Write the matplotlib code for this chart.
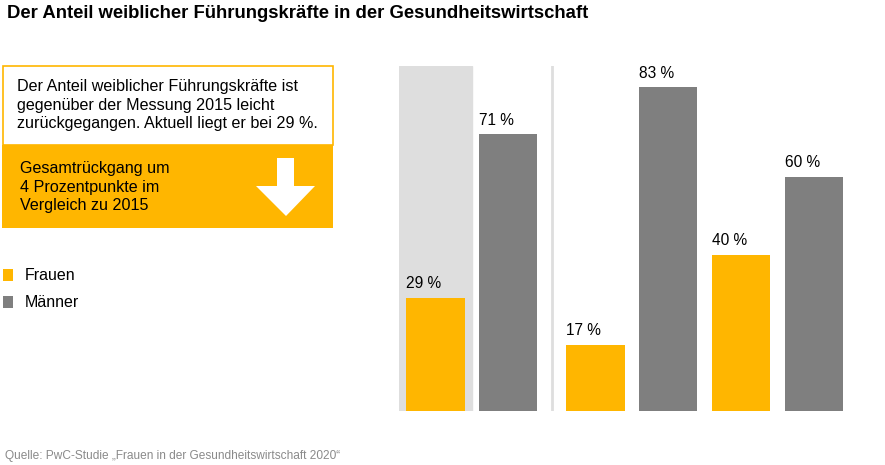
import matplotlib
matplotlib.use("Agg")
import matplotlib.pyplot as plt
from matplotlib.patches import Rectangle, Polygon

plt.rcParams['font.family'] = ['Liberation Sans', 'DejaVu Sans']

# ---- data ----
title = "Der Anteil weiblicher Führungskräfte in der Gesundheitswirtschaft"
source = "Quelle: PwC-Studie „Frauen in der Gesundheitswirtschaft 2020“"
series_names = ["Frauen", "Männer"]
frauen = [29, 17, 40]
maenner = [71, 83, 60]
box_text = "Der Anteil weiblicher Führungskräfte ist\ngegenüber der Messung 2015 leicht\nzurückgegangen. Aktuell liegt er bei 29 %."
box_text2 = "Gesamtrückgang um\n4 Prozentpunkte im\nVergleich zu 2015"

ORANGE = "#FFB600"
GREY = "#7F7F7F"
LIGHT = "#DEDEDE"

W, H = 885, 465
fig = plt.figure(figsize=(W / 100, H / 100), dpi=100)

# overlay axes in pixel coordinates for annotations
ov = fig.add_axes([0, 0, 1, 1])
ov.set_xlim(0, W)
ov.set_ylim(H, 0)
ov.axis("off")

ov.text(7, 13, title, fontsize=13.3, fontweight="bold", va="center", ha="left")

# info box
ov.add_patch(Rectangle((2.5, 66.5), 330, 79, facecolor="white", edgecolor=ORANGE, lw=1.2))
ov.add_patch(Rectangle((2, 145), 331, 83, facecolor=ORANGE, edgecolor="none"))
ov.text(17, 105, box_text, fontsize=11.6, va="center", ha="left", linespacing=1.26)
ov.text(20, 187, box_text2, fontsize=11.6, va="center", ha="left", linespacing=1.26)
ov.add_patch(Polygon([(277, 158), (294, 158), (294, 186), (315, 186), (286, 216),
                      (256, 186), (277, 186)], closed=True, facecolor="white", edgecolor="none"))

# legend
for name, col, yc in [(series_names[0], ORANGE, 275), (series_names[1], GREY, 302)]:
    ov.add_patch(Rectangle((3, yc - 6), 10, 12, facecolor=col, edgecolor="none"))
    ov.text(25, yc, name, fontsize=11.5, va="center", ha="left")

ov.text(5, 456, source, fontsize=8.6, color="#8a8a8a", va="center", ha="left")

# bar chart axes
ax = fig.add_axes([399 / W, (H - 411) / H, (843 - 399) / W, 345 / H])
x_f = [0, 2.2, 4.2]
x_m = [1, 3.2, 5.2]
bw = 0.8
ax.axvspan(-0.5, 0.5, color=LIGHT, zorder=0)
ax.axvline(1.6, color=LIGHT, lw=2, zorder=0)
ax.bar(x_f, frauen, width=bw, color=ORANGE, zorder=2)
ax.bar(x_m, maenner, width=bw, color=GREY, zorder=2)
for xs, vals in [(x_f, frauen), (x_m, maenner)]:
    for x, v in zip(xs, vals):
        ax.text(x - bw / 2, v + 1.7, f"{v} %", fontsize=11.2, ha="left", va="bottom")
ax.set_xlim(-0.5, 5.6)
ax.set_ylim(0, 88.5)
ax.axis("off")

fig.savefig("out.png", dpi=100)
